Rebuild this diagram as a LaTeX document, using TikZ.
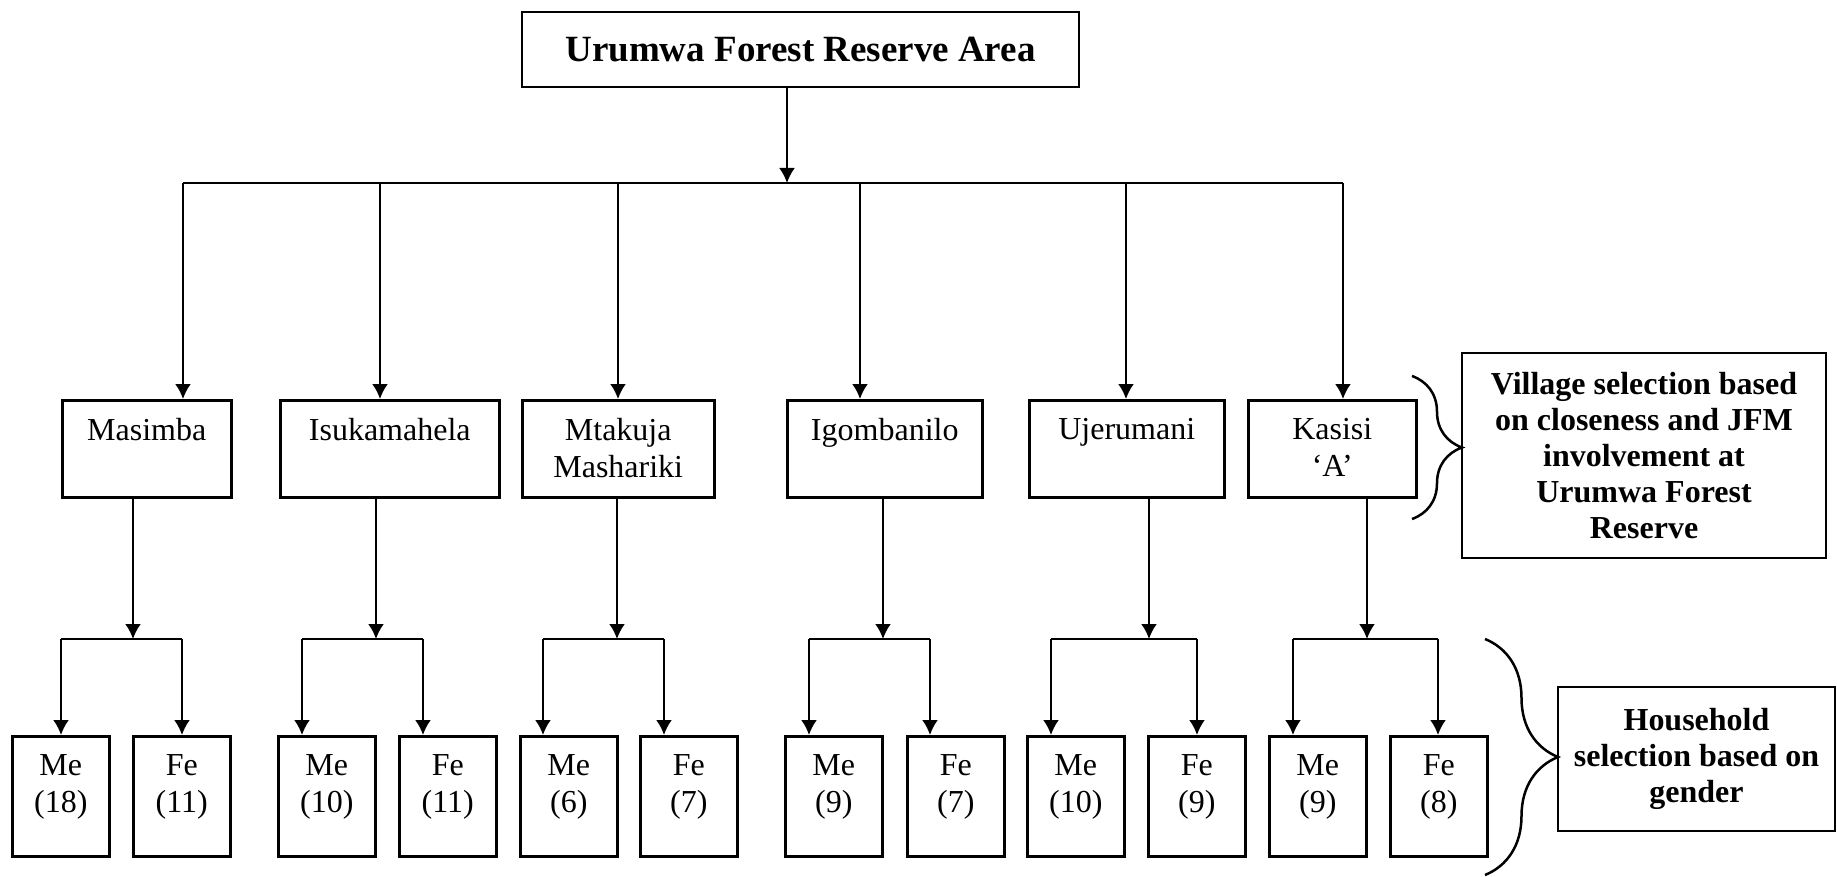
\documentclass[tikz,border=0pt]{standalone}
\usepackage{fontspec}
\setmainfont{Liberation Serif}
\usetikzlibrary{arrows.meta}
\usetikzlibrary{decorations.pathreplacing}

\tikzset{
  box/.style={draw, line width=2.5pt, inner sep=0pt, anchor=north west, minimum height=97pt,
    label={[anchor=north, yshift=-19pt, inner sep=0pt, align=center]north:#1}},
  leaf/.style={box=#1, minimum width=97pt, minimum height=120pt},
  note/.style={draw, line width=2.5pt, align=center, font=\fontsize{32}{36}\selectfont\bfseries},
  wire/.style={line width=2.2pt},
  arr/.style={wire, -{Latex[length=15pt, width=16pt]}},
  curly/.style={line width=2.5pt, decorate, decoration={brace, amplitude=#1}},
}

\begin{document}
\begin{tikzpicture}[x=1pt, y=-1pt, font=\fontsize{32}{37}\selectfont]
\useasboundingbox (0,0) rectangle (1837,877);

\node[note, font=\fontsize{37}{42}\selectfont\bfseries, minimum width=557pt, minimum height=75pt] (area) at (800.5,49.5) {Urumwa Forest Reserve Area};

% villages
\node[box=Masimba, minimum width=169pt] (masimba) at (61,399) {};
\node[box=Isukamahela, minimum width=219pt] (isuka) at (279,399) {};
\node[box={Mtakuja\\Mashariki}, minimum width=192pt] (mtakuja) at (521,399) {};
\node[box=Igombanilo, minimum width=195pt] (igomb) at (786,399) {};
\node[box=Ujerumani, minimum width=195pt] (ujeru) at (1028,399) {};
\node[box={Kasisi\\`A'}, minimum width=168pt] (kasisi) at (1247,399) {};

% households
\node[leaf={Me\\(18)}] (masMe) at (11,735) {};
\node[leaf={Fe\\(11)}] (masFe) at (132,735) {};
\node[leaf={Me\\(10)}] (isuMe) at (277,735) {};
\node[leaf={Fe\\(11)}] (isuFe) at (398,735) {};
\node[leaf={Me\\(6)}] (mtaMe) at (519,735) {};
\node[leaf={Fe\\(7)}] (mtaFe) at (639,735) {};
\node[leaf={Me\\(9)}] (igoMe) at (784,735) {};
\node[leaf={Fe\\(7)}] (igoFe) at (906,735) {};
\node[leaf={Me\\(10)}] (ujeMe) at (1026,735) {};
\node[leaf={Fe\\(9)}] (ujeFe) at (1147,735) {};
\node[leaf={Me\\(9)}] (kasMe) at (1268,735) {};
\node[leaf={Fe\\(8)}] (kasFe) at (1389,735) {};

\node[note, minimum width=364pt, minimum height=205pt] (vsel) at (1644,455.5) {Village selection based\\on closeness and JFM\\involvement at\\Urumwa Forest\\Reserve};
\node[note, minimum width=277pt, minimum height=144pt] (hsel) at (1696.5,759) {Household\\selection based on\\gender};

% top level split
\coordinate (hub) at (787,183);
\coordinate (v1) at (183,183);
\coordinate (v2) at (380,183);
\coordinate (v3) at (618,183);
\coordinate (v4) at (860,183);
\coordinate (v5) at (1126,183);
\coordinate (v6) at (1343,183);
\draw[arr] (area.south -| hub) -- (hub);
\draw[wire] (v1) -- (v6);
\draw[arr] (v1) -- (v1 |- masimba.north);
\draw[arr] (v2) -- (v2 |- isuka.north);
\draw[arr] (v3) -- (v3 |- mtakuja.north);
\draw[arr] (v4) -- (v4 |- igomb.north);
\draw[arr] (v5) -- (v5 |- ujeru.north);
\draw[arr] (v6) -- (v6 |- kasisi.north);

% gender split
\coordinate (d1) at (133,639);
\coordinate (d2) at (376,639);
\coordinate (d3) at (617,639);
\coordinate (d4) at (883,639);
\coordinate (d5) at (1149,639);
\coordinate (d6) at (1367,639);
\draw[arr] (d1 |- masimba.south) -- (d1);
\draw[arr] (d2 |- isuka.south) -- (d2);
\draw[arr] (d3 |- mtakuja.south) -- (d3);
\draw[arr] (d4 |- igomb.south) -- (d4);
\draw[arr] (d5 |- ujeru.south) -- (d5);
\draw[arr] (d6 |- kasisi.south) -- (d6);

\coordinate (m1) at (61,639);   \coordinate (f1) at (182,639);
\coordinate (m2) at (302,639);  \coordinate (f2) at (423,639);
\coordinate (m3) at (543,639);  \coordinate (f3) at (664,639);
\coordinate (m4) at (809,639);  \coordinate (f4) at (930,639);
\coordinate (m5) at (1051,639); \coordinate (f5) at (1197,639);
\coordinate (m6) at (1293,639); \coordinate (f6) at (1438,639);
\draw[wire] (m1) -- (f1);
\draw[wire] (m2) -- (f2);
\draw[wire] (m3) -- (f3);
\draw[wire] (m4) -- (f4);
\draw[wire] (m5) -- (f5);
\draw[wire] (m6) -- (f6);
\draw[arr] (m1) -- (m1 |- masMe.north);
\draw[arr] (f1) -- (f1 |- masFe.north);
\draw[arr] (m2) -- (m2 |- isuMe.north);
\draw[arr] (f2) -- (f2 |- isuFe.north);
\draw[arr] (m3) -- (m3 |- mtaMe.north);
\draw[arr] (f3) -- (f3 |- mtaFe.north);
\draw[arr] (m4) -- (m4 |- igoMe.north);
\draw[arr] (f4) -- (f4 |- igoFe.north);
\draw[arr] (m5) -- (m5 |- ujeMe.north);
\draw[arr] (f5) -- (f5 |- ujeFe.north);
\draw[arr] (m6) -- (m6 |- kasMe.north);
\draw[arr] (f6) -- (f6 |- kasFe.north);

% braces
\coordinate (vtop) at (1412,376);
\coordinate (vbot) at (1412,519);
\coordinate (htop) at (1485,639);
\coordinate (hbot) at (1485,875);
\draw[curly=50] (vtop) -- (vbot);
\draw[curly=73] (htop) -- (hbot);
\end{tikzpicture}
\end{document}
